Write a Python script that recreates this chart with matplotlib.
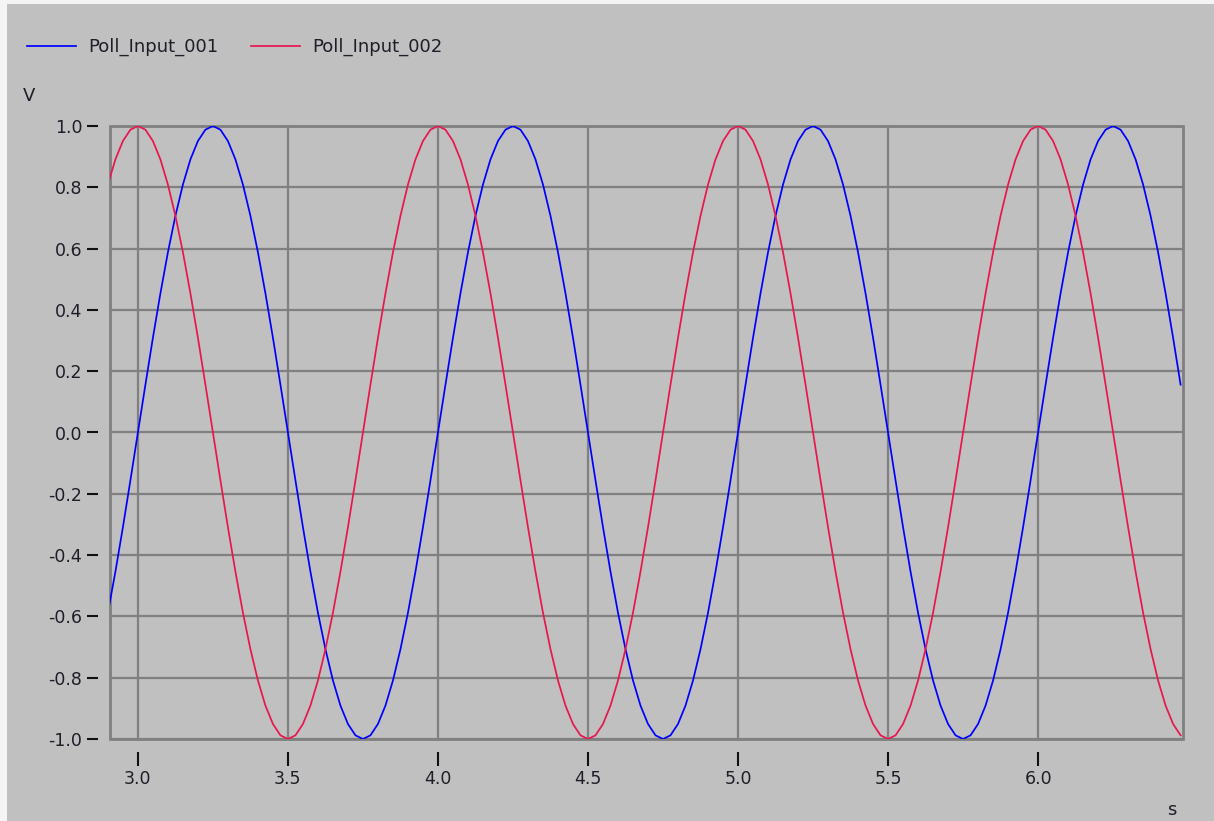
import numpy as np
import matplotlib
matplotlib.use("Agg")
import matplotlib.pyplot as plt
from matplotlib.patches import Rectangle

# Sampled signals, 0.025 s sample interval starting at 2.900 s
t_start = 2.9
t_step = 0.025

poll_input_001 = [
    -0.588, -0.454, -0.309, -0.156,
    0.000, 0.156, 0.309, 0.454, 0.588, 0.707, 0.809, 0.891, 0.951, 0.988,
    1.000, 0.988, 0.951, 0.891, 0.809, 0.707, 0.588, 0.454, 0.309, 0.156,
    0.000, -0.156, -0.309, -0.454, -0.588, -0.707, -0.809, -0.891, -0.951, -0.988,
    -1.000, -0.988, -0.951, -0.891, -0.809, -0.707, -0.588, -0.454, -0.309, -0.156,
    0.000, 0.156, 0.309, 0.454, 0.588, 0.707, 0.809, 0.891, 0.951, 0.988,
    1.000, 0.988, 0.951, 0.891, 0.809, 0.707, 0.588, 0.454, 0.309, 0.156,
    0.000, -0.156, -0.309, -0.454, -0.588, -0.707, -0.809, -0.891, -0.951, -0.988,
    -1.000, -0.988, -0.951, -0.891, -0.809, -0.707, -0.588, -0.454, -0.309, -0.156,
    0.000, 0.156, 0.309, 0.454, 0.588, 0.707, 0.809, 0.891, 0.951, 0.988,
    1.000, 0.988, 0.951, 0.891, 0.809, 0.707, 0.588, 0.454, 0.309, 0.156,
    0.000, -0.156, -0.309, -0.454, -0.588, -0.707, -0.809, -0.891, -0.951, -0.988,
    -1.000, -0.988, -0.951, -0.891, -0.809, -0.707, -0.588, -0.454, -0.309, -0.156,
    0.000, 0.156, 0.309, 0.454, 0.588, 0.707, 0.809, 0.891, 0.951, 0.988,
    1.000, 0.988, 0.951, 0.891, 0.809, 0.707, 0.588, 0.454, 0.309, 0.156,
]

poll_input_002 = [
    0.809, 0.891, 0.951, 0.988,
    1.000, 0.988, 0.951, 0.891, 0.809, 0.707, 0.588, 0.454, 0.309, 0.156,
    0.000, -0.156, -0.309, -0.454, -0.588, -0.707, -0.809, -0.891, -0.951, -0.988,
    -1.000, -0.988, -0.951, -0.891, -0.809, -0.707, -0.588, -0.454, -0.309, -0.156,
    0.000, 0.156, 0.309, 0.454, 0.588, 0.707, 0.809, 0.891, 0.951, 0.988,
    1.000, 0.988, 0.951, 0.891, 0.809, 0.707, 0.588, 0.454, 0.309, 0.156,
    0.000, -0.156, -0.309, -0.454, -0.588, -0.707, -0.809, -0.891, -0.951, -0.988,
    -1.000, -0.988, -0.951, -0.891, -0.809, -0.707, -0.588, -0.454, -0.309, -0.156,
    0.000, 0.156, 0.309, 0.454, 0.588, 0.707, 0.809, 0.891, 0.951, 0.988,
    1.000, 0.988, 0.951, 0.891, 0.809, 0.707, 0.588, 0.454, 0.309, 0.156,
    0.000, -0.156, -0.309, -0.454, -0.588, -0.707, -0.809, -0.891, -0.951, -0.988,
    -1.000, -0.988, -0.951, -0.891, -0.809, -0.707, -0.588, -0.454, -0.309, -0.156,
    0.000, 0.156, 0.309, 0.454, 0.588, 0.707, 0.809, 0.891, 0.951, 0.988,
    1.000, 0.988, 0.951, 0.891, 0.809, 0.707, 0.588, 0.454, 0.309, 0.156,
    0.000, -0.156, -0.309, -0.454, -0.588, -0.707, -0.809, -0.891, -0.951, -0.988,
]

series_names = ["Poll_Input_001", "Poll_Input_002"]
x_ticks = [3.0, 3.5, 4.0, 4.5, 5.0, 5.5, 6.0]
y_ticks = [-1.0, -0.8, -0.6, -0.4, -0.2, 0.0, 0.2, 0.4, 0.6, 0.8, 1.0]

time = t_start + t_step * np.arange(len(poll_input_001))

BG = "#c0c0c0"
GRID = "#808080"
TEXT = "#1e1e28"

plt.rcParams["font.family"] = ["DejaVu Sans"]

fig = plt.figure(figsize=(12.14, 8.21), dpi=100, facecolor=BG)
W, H = 1214, 821

# thin light window border on the left and top
fig.patches.append(Rectangle((0, 0), 7 / W, 1, transform=fig.transFigure,
                             facecolor="#f4f4f4", edgecolor="none", zorder=-5))
fig.patches.append(Rectangle((0, 1 - 4 / H), 1, 4 / H, transform=fig.transFigure,
                             facecolor="#f4f4f4", edgecolor="none", zorder=-5))

left, right, top, bottom = 110 / W, 1183 / W, 1 - 126 / H, 1 - 739 / H
ax = fig.add_axes([left, bottom, right - left, top - bottom])
ax.set_facecolor(BG)

line1, = ax.plot(time, poll_input_001, color="#0000ff", lw=1.25,
                 label=series_names[0], zorder=3)
line2, = ax.plot(time, poll_input_002, color="#e8164e", lw=1.25,
                 label=series_names[1], zorder=3)

ax.set_xlim(2.907, 6.483)
ax.set_ylim(-1.0, 1.0)
ax.set_xticks(x_ticks)
ax.set_yticks(y_ticks)
ax.set_xticklabels([f"{v:.1f}" for v in x_ticks])
ax.set_yticklabels([f"{v:.1f}" for v in y_ticks])

ax.grid(True, color=GRID, lw=1.6, zorder=1)
ax.set_axisbelow(True)

# detached tick marks: spines pushed outward and hidden
for side in ["left", "bottom"]:
    ax.spines[side].set_position(("outward", 9))
    ax.spines[side].set_visible(False)
for side in ["right", "top"]:
    ax.spines[side].set_visible(False)

ax.add_patch(Rectangle((0, 0), 1, 1, transform=ax.transAxes, fill=False,
                       edgecolor=GRID, lw=2.0, clip_on=False, zorder=2))

ax.tick_params(axis="y", direction="out", length=8, width=1.5, color="#101010",
               pad=3, labelsize=12.5, labelcolor=TEXT)
ax.tick_params(axis="x", direction="out", length=10, width=1.5, color="#101010",
               pad=3, labelsize=12.5, labelcolor=TEXT)

fig.text(29 / W, 1 - 96 / H, "V", ha="center", va="center",
         fontsize=13, color=TEXT)
fig.text(1172 / W, 1 - 810 / H, "s", ha="center", va="center",
         fontsize=13, color=TEXT)

leg = fig.legend(handles=[line1, line2], labels=series_names,
                 loc="center left", bbox_to_anchor=(27 / W, 1 - 47 / H),
                 ncol=2, frameon=False, fontsize=13, handlelength=2.7,
                 handletextpad=0.7, columnspacing=1.8, borderaxespad=0,
                 borderpad=0)
for txt in leg.get_texts():
    txt.set_color(TEXT)

fig.savefig("out.png", dpi=100, facecolor=BG)
